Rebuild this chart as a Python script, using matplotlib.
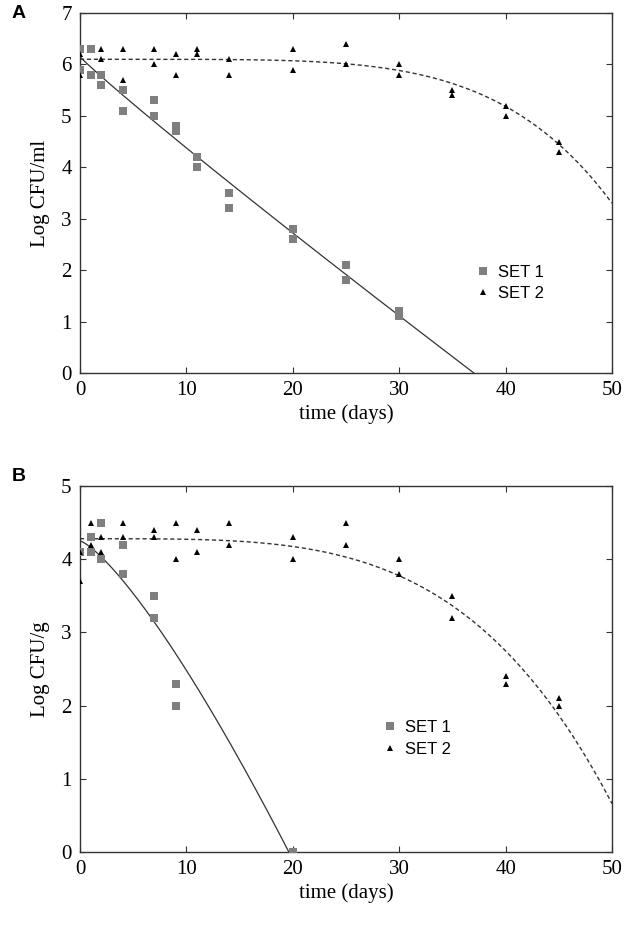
import numpy as np
import matplotlib
matplotlib.use('Agg')
import matplotlib.pyplot as plt

plt.rcParams['font.family'] = 'Liberation Serif'

# panel A - broth (Log CFU/ml)
a_set1_days = [0, 1, 2, 4, 7, 9, 11, 14, 20, 25, 30]
a_set1_rep1 = [6.3, 6.3, 5.8, 5.5, 5.3, 4.8, 4.2, 3.5, 2.8, 2.1, 1.2]
a_set1_rep2 = [5.9, 5.8, 5.6, 5.1, 5.0, 4.7, 4.0, 3.2, 2.6, 1.8, 1.1]

a_set2_days = [0, 2, 4, 7, 9, 11, 14, 20, 25, 30, 35, 40, 45]
a_set2_rep1 = [6.2, 6.3, 6.3, 6.3, 6.2, 6.3, 6.1, 6.3, 6.4, 6.0, 5.5, 5.2, 4.5]
a_set2_rep2 = [5.8, 6.1, 5.7, 6.0, 5.8, 6.2, 5.8, 5.9, 6.0, 5.8, 5.4, 5.0, 4.3]

# panel B - solid (Log CFU/g)
b_set1_days = [0, 1, 2, 4, 7, 9, 20]
b_set1_rep1 = [4.1, 4.3, 4.5, 4.2, 3.5, 2.3, 0.0]
b_set1_rep2 = [4.1, 4.1, 4.0, 3.8, 3.2, 2.0, 0.0]

b_set2_days = [0, 1, 2, 4, 7, 9, 11, 14, 20, 25, 30, 35, 40, 45]
b_set2_rep1 = [4.1, 4.5, 4.3, 4.5, 4.4, 4.5, 4.4, 4.5, 4.3, 4.5, 4.0, 3.5, 2.4, 2.1]
b_set2_rep2 = [3.7, 4.2, 4.1, 4.3, 4.3, 4.0, 4.1, 4.2, 4.0, 4.2, 3.8, 3.2, 2.3, 2.0]

# Weibull fits (log N0, delta, p)
a_set1_fit = (6.15, 5.47, 0.95)
a_set2_fit = (6.10, 40.7, 5.0)
b_set1_fit = (4.25, 6.45, 1.3)
b_set2_fit = (4.28, 35.8, 3.85)


def weibull(t, fit):
    n0, delta, p = fit
    return n0 - (t / delta) ** p


def draw_panel(ax, s1_days, s1_reps, s2_days, s2_reps, s1_fit, s2_fit, ymax, ylabel, leg_pos):
    t = np.linspace(0, 50, 400)
    ax.plot(t, weibull(t, s1_fit), color='#333333', lw=0.9, zorder=2)
    ax.plot(t, weibull(t, s2_fit), color='#333333', lw=1.0, ls=(0, (3, 2)), zorder=2)
    for i, rep in enumerate(s1_reps):
        ax.plot(s1_days, rep, 's', ms=5.8, color='#7f7f7f', mew=0,
                label='SET 1' if i == 0 else None, zorder=3)
    for i, rep in enumerate(s2_reps):
        ax.plot(s2_days, rep, '^', ms=5.0, color='black', mew=0,
                label='SET 2' if i == 0 else None, zorder=4)
    ax.set_xlim(0, 50)
    ax.set_ylim(0, ymax)
    ax.set_xticks(np.arange(0, 51, 10))
    ax.set_yticks(np.arange(0, ymax + 1, 1))
    ax.tick_params(direction='in', top=True, right=True, length=4, width=0.8,
                   labelsize=15, color='#333333', pad=6)
    for sp in ax.spines.values():
        sp.set_linewidth(1.0)
        sp.set_color('#333333')
    ax.set_xlabel('time (days)', fontsize=15, labelpad=3)
    ax.set_ylabel(ylabel, fontsize=15, labelpad=8)
    ax.legend(loc='center left', bbox_to_anchor=leg_pos, frameon=False,
              prop={'family': 'Liberation Sans', 'size': 12},
              handletextpad=0.4, handlelength=1.0, labelspacing=0.4, borderaxespad=0)


fig = plt.figure(figsize=(6.29, 9.30), dpi=100)
ax_a = fig.add_axes([80 / 629, 1 - 373 / 930, 532 / 629, 360 / 930])
ax_b = fig.add_axes([80 / 629, 1 - 852 / 930, 532 / 629, 366 / 930])

draw_panel(ax_a, a_set1_days, [a_set1_rep1, a_set1_rep2],
           a_set2_days, [a_set2_rep1, a_set2_rep2],
           a_set1_fit, a_set2_fit, 7, 'Log CFU/ml', (0.73, 0.25))
draw_panel(ax_b, b_set1_days, [b_set1_rep1, b_set1_rep2],
           b_set2_days, [b_set2_rep1, b_set2_rep2],
           b_set1_fit, b_set2_fit, 5, 'Log CFU/g', (0.555, 0.31))

fig.text(12 / 629, 1 - 14 / 930, 'A', fontsize=14, fontweight='bold',
         family='Liberation Sans', ha='left', va='center')
fig.text(12 / 629, 1 - 476 / 930, 'B', fontsize=14, fontweight='bold',
         family='Liberation Sans', ha='left', va='center')

fig.savefig('out.png', dpi=100)
